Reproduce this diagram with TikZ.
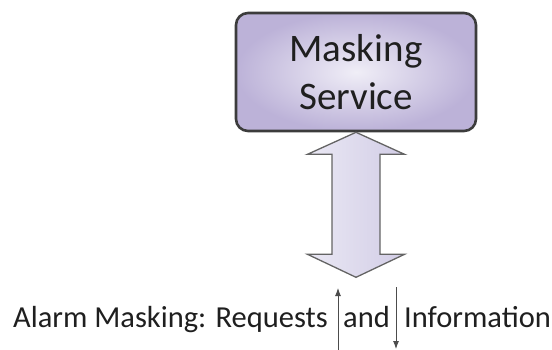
\documentclass[tikz,border=0pt]{standalone}
\usepackage{fontspec}
\setmainfont{Carlito}
\usetikzlibrary{arrows.meta}
\definecolor{boxout}{RGB}{188,178,216}
\definecolor{boxin}{RGB}{240,238,247}
\definecolor{arrL}{RGB}{234,232,244}
\definecolor{arrR}{RGB}{210,205,230}
\definecolor{edgegray}{RGB}{60,60,60}
\definecolor{arrgray}{RGB}{100,100,100}
\begin{document}
\begin{tikzpicture}[x=1pt,y=-1pt,
  boxstyle/.style={draw=edgegray, line width=2.6pt, rounded corners=12pt,
    inner color=boxin, outer color=boxout,
    minimum width=240pt, minimum height=118pt, align=center,
    font=\fontsize{39}{48}\selectfont, text=black!88},
  bigarrow/.style={draw=arrgray, line width=1.3pt, line join=miter,
    left color=arrL, right color=arrR},
  labeltext/.style={font=\fontsize{30.5}{36}\selectfont, text=black!88, inner sep=0pt, anchor=base west},
  smallarrow/.style={draw=black!70, line width=0.9pt, -{Latex[length=8pt,width=6pt]}}
]
\useasboundingbox (0,0) rectangle (552,349);
\fill[white] (0,0) rectangle (552,349);
\node[boxstyle] (ms) at (356,72) {Masking\\Service};
% big double arrow from box to label
\path[bigarrow] (ms.south) -- ++(48.5,22) -- ++(-24.5,0) -- ++(0,100)
  -- ++(24.5,0) -- ++(-48.5,23) -- ++(-48.5,-23) -- ++(24.5,0)
  -- ++(0,-100) -- ++(-24.5,0) -- cycle;
% label
\node[labeltext] (t1) at (13,327) {Alarm Masking: Requests};
\node[labeltext] (t2) at (343,327) {and};
\node[labeltext] (t3) at (404,327) {Information};
\coordinate (upfoot) at (338,349.5);
\coordinate (uptip) at (338,288);
\coordinate (dnstart) at (396,287);
\coordinate (dntip) at (396,349);
\draw[smallarrow] (upfoot) -- (uptip);
\draw[smallarrow] (dnstart) -- (dntip);
\end{tikzpicture}
\end{document}
